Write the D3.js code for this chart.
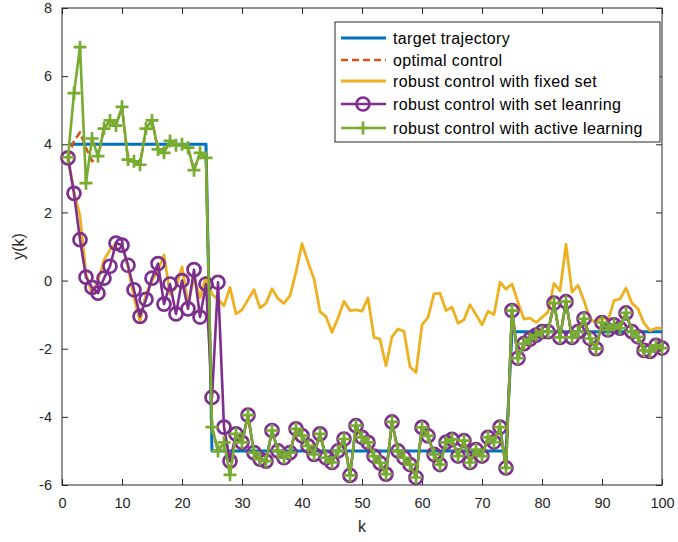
<!DOCTYPE html>
<html>
<head>
<meta charset="utf-8">
<script src="https://cdn.jsdelivr.net/npm/d3@7"></script>
<style>
  html, body { margin: 0; padding: 0; background: #fff; }
  svg { display: block; font-family: "Liberation Sans", Arial, Helvetica, sans-serif; }
</style>
</head>
<body>
<svg id="chart" width="678" height="542"></svg>
<script>
// ---- data -------------------------------------------------------------
const steps = d3.range(1, 101); // k = 1 .. 100

// reference trajectory: piecewise constant levels
const targetLevels = [4, -5, -1.5];
const targetEnds = [24, 74, 100];

// output of the robust controller with a fixed uncertainty set
const fixedSet = [
  3.6, 2.6, 1.9, 0.2, -0.4, 0.0, 0.6, 0.9, 1.1, 1.05,
  0.4, -0.5, -1.2, -0.4, 0.0, 0.3, 0.75, -0.4, -0.2, 0.4,
  -0.7, 0.1, -0.5, 0.1, -0.4, -0.55, -0.74, -0.2, -0.98, -0.86,
  -0.56, -0.27, -0.8, -0.67, -0.24, -0.53, -0.67, -0.44, 0.25, 1.08,
  0.54, 0.05, -0.91, -1.06, -1.52, -1.1, -0.61, -0.88, -0.86, -0.9,
  -0.51, -1.67, -1.72, -2.5, -1.65, -1.42, -1.49, -2.53, -2.7, -1.3,
  -1.08, -0.39, -0.37, -0.88, -0.78, -1.25, -1.15, -0.71, -1.0, -1.3,
  -0.9, -1.0, -0.05, -0.25, -0.1, -0.64, -1.13, -1.1, -1.23, -1.08,
  -0.93, -0.08, -0.3, 1.06, -0.34, -0.14, -0.59, -1.13, -1.23, -1.06,
  -1.18, -0.59, -0.54, -0.22, -0.67, -0.83, -1.25, -1.47, -1.4, -1.4
];

// output of the robust controller with set learning
const setLearning = [
  3.6, 2.56, 1.2, 0.1, -0.2, -0.37, 0.07, 0.42, 1.1, 1.04,
  0.45, -0.27, -1.05, -0.55, 0.07, 0.5, -0.69, -0.1, -0.98, 0.0,
  -0.83, 0.32, -1.07, -0.1, -3.43, -0.05, -4.3, -5.3, -4.5, -4.75,
  -3.95, -5.05, -5.24, -5.3, -4.4, -5.0, -5.2, -5.05, -4.35, -4.55,
  -4.85, -5.1, -4.5, -5.2, -5.34, -5.0, -4.65, -5.72, -4.26, -4.6,
  -4.75, -5.15, -5.35, -5.68, -4.15, -5.0, -5.2, -5.4, -5.78, -4.31,
  -4.56, -5.1, -5.4, -4.75, -4.66, -5.15, -4.7, -5.34, -4.96, -5.15,
  -4.6, -4.74, -4.3, -5.5, -0.88, -2.28, -1.85, -1.72, -1.6, -1.5,
  -1.5, -0.66, -1.67, -0.62, -1.67, -1.5, -1.12, -1.7, -2.0, -1.23,
  -1.45, -1.3, -1.4, -0.95, -1.5, -1.65, -2.05, -2.08, -1.9, -1.98
];

// output of the robust controller with active learning
const activeLearning = [
  3.62, 5.5, 6.85, 2.86, 4.17, 3.65, 4.46, 4.7, 4.55, 5.1,
  3.55, 3.5, 3.4, 4.46, 4.7, 3.85, 3.75, 4.1, 3.97, 4.0,
  3.9, 3.24, 3.75, 3.6, -4.3, -5.0, -4.75, -5.7, -4.5, -4.75,
  -3.95, -5.05, -5.24, -5.3, -4.4, -5.0, -5.2, -5.05, -4.35, -4.55,
  -4.85, -5.1, -4.5, -5.2, -5.34, -5.0, -4.65, -5.72, -4.26, -4.6,
  -4.75, -5.15, -5.35, -5.68, -4.15, -5.0, -5.2, -5.4, -5.78, -4.31,
  -4.56, -5.1, -5.4, -4.75, -4.66, -5.15, -4.7, -5.34, -4.96, -5.15,
  -4.6, -4.74, -4.3, -5.5, -0.88, -2.28, -1.85, -1.72, -1.6, -1.5,
  -1.5, -0.66, -1.67, -0.62, -1.67, -1.5, -1.12, -1.7, -2.0, -1.23,
  -1.45, -1.3, -1.4, -0.95, -1.5, -1.65, -2.05, -2.08, -1.9, -1.98
];

// optimal controller output (first steps differ, then coincides with active learning)
const optimalStart = [3.6, 4.1, 4.35, 3.9, 3.5, 3.65];

const xTicks = [0, 10, 20, 30, 40, 50, 60, 70, 80, 90, 100];
const yTicks = [-6, -4, -2, 0, 2, 4, 6, 8];

const seriesNames = [
  "target trajectory",
  "optimal control",
  "robust control with fixed set",
  "robust control with set leanring",
  "robust control with active learning"
];
const colors = ["#0072BD", "#D95319", "#EDB120", "#7E2F8E", "#77AC30"];

// ---- derived series -----------------------------------------------------
const target = steps.map(k => targetLevels[targetEnds.findIndex(e => k <= e)]);
const optimal = activeLearning.map((v, i) => i < optimalStart.length ? optimalStart[i] : v);

// ---- layout -------------------------------------------------------------
const svg = d3.select("#chart");
const plot = { left: 62, right: 662, top: 8, bottom: 485 };
const x = d3.scaleLinear().domain([0, 100]).range([plot.left, plot.right]);
const y = d3.scaleLinear().domain([-6, 8]).range([plot.bottom, plot.top]);
const axisColor = "#262626";

svg.append("rect")
  .attr("x", plot.left).attr("y", plot.top)
  .attr("width", plot.right - plot.left).attr("height", plot.bottom - plot.top)
  .attr("fill", "#fff");

function styleAxis(g, showText) {
  g.select(".domain").remove();
  g.selectAll("line").attr("stroke", axisColor).attr("stroke-width", 1);
  g.selectAll("text")
    .attr("fill", axisColor)
    .style("font-size", "14.5px")
    .style("display", showText ? null : "none");
}

svg.append("g").attr("transform", `translate(0,${plot.bottom})`)
  .call(d3.axisBottom(x).tickValues(xTicks).tickSize(-6).tickPadding(13))
  .call(g => styleAxis(g, true));
svg.append("g").attr("transform", `translate(0,${plot.top})`)
  .call(d3.axisTop(x).tickValues(xTicks).tickSize(-6))
  .call(g => styleAxis(g, false));
svg.append("g").attr("transform", `translate(${plot.left},0)`)
  .call(d3.axisLeft(y).tickValues(yTicks).tickSize(-6).tickPadding(10).tickFormat(d3.format("d")))
  .call(g => styleAxis(g, true));
svg.append("g").attr("transform", `translate(${plot.right},0)`)
  .call(d3.axisRight(y).tickValues(yTicks).tickSize(-6))
  .call(g => styleAxis(g, false));

// plain hyphen minus signs on tick labels
svg.selectAll("text").each(function () {
  const t = d3.select(this);
  t.text(t.text().replace("\u2212", "-"));
});

svg.append("rect")
  .attr("x", plot.left).attr("y", plot.top)
  .attr("width", plot.right - plot.left).attr("height", plot.bottom - plot.top)
  .attr("fill", "none").attr("stroke", axisColor).attr("stroke-width", 1);

// axis titles
svg.append("text")
  .attr("x", (plot.left + plot.right) / 2).attr("y", 532)
  .attr("text-anchor", "middle").attr("fill", axisColor)
  .style("font-size", "16px").text("k");
svg.append("text")
  .attr("transform", `translate(24,${(plot.top + plot.bottom) / 2}) rotate(-90)`)
  .attr("text-anchor", "middle").attr("fill", axisColor)
  .style("font-size", "16px").text("y(k)");

// ---- series -------------------------------------------------------------
const line = d3.line().x((d, i) => x(steps[i])).y(d => y(d));
const allSeries = [target, optimal, fixedSet, setLearning, activeLearning];
const widths = [3, 2.6, 2.8, 2.6, 2.6];

const marks = svg.append("g");
allSeries.forEach((vals, s) => {
  marks.append("path")
    .datum(vals)
    .attr("d", line)
    .attr("fill", "none")
    .attr("stroke", colors[s])
    .attr("stroke-width", widths[s])
    .attr("stroke-linejoin", "round")
    .attr("stroke-dasharray", s === 1 ? "7,4" : null);

  if (s === 3) {
    marks.append("g").selectAll("circle")
      .data(vals).join("circle")
      .attr("cx", (d, i) => x(steps[i])).attr("cy", d => y(d))
      .attr("r", 6.5).attr("fill", "none")
      .attr("stroke", colors[s]).attr("stroke-width", 2.7);
  }
  if (s === 4) {
    marks.append("g").selectAll("path")
      .data(vals).join("path")
      .attr("transform", (d, i) => `translate(${x(steps[i])},${y(d)})`)
      .attr("d", "M-6.5,0H6.5M0,-6.5V6.5")
      .attr("fill", "none")
      .attr("stroke", colors[s]).attr("stroke-width", 2.7);
  }
});

// ---- legend ---------------------------------------------------------------
const legend = svg.append("g");
legend.append("rect")
  .attr("x", 335).attr("y", 22).attr("width", 325).attr("height", 120)
  .attr("fill", "#fff").attr("stroke", axisColor).attr("stroke-width", 1);
const rowY = [38, 60, 81, 104, 128];
seriesNames.forEach((name, s) => {
  const yy = rowY[s];
  legend.append("line")
    .attr("x1", 341).attr("x2", 386).attr("y1", yy).attr("y2", yy)
    .attr("stroke", colors[s]).attr("stroke-width", widths[s])
    .attr("stroke-dasharray", s === 1 ? "7,4" : null);
  if (s === 3) {
    legend.append("circle").attr("cx", 363).attr("cy", yy).attr("r", 6.5)
      .attr("fill", "none").attr("stroke", colors[s]).attr("stroke-width", 2.7);
  }
  if (s === 4) {
    legend.append("path").attr("transform", `translate(363,${yy})`)
      .attr("d", "M-6.5,0H6.5M0,-6.5V6.5")
      .attr("fill", "none").attr("stroke", colors[s]).attr("stroke-width", 2.7);
  }
  legend.append("text")
    .attr("x", 393).attr("y", yy).attr("dy", "0.35em")
    .attr("fill", "#000").style("font-size", "16px")
    .style("letter-spacing", "0.35px")
    .text(name);
});
</script>
</body>
</html>
